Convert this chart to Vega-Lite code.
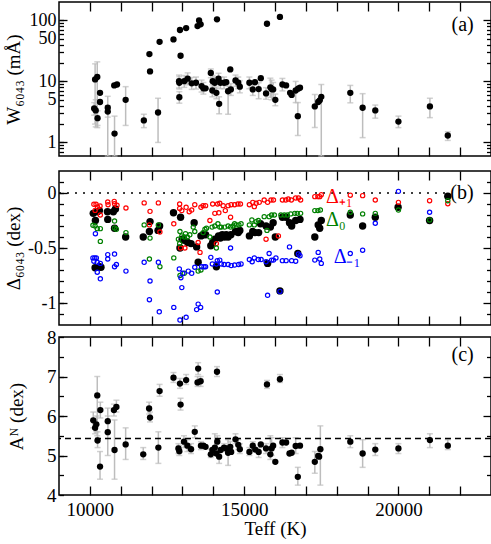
{
"$schema": "https://vega.github.io/schema/vega-lite/v6.json",
"padding": {"left": 3, "top": 0, "right": 0, "bottom": 0},
"config": {"font": "Liberation Serif", "view": {"stroke": "black", "strokeWidth": 1.5},
  "text": {"font": "Liberation Serif"},
  "axis": {"domain": false, "grid": false, "labelFont": "Liberation Serif", "titleFont": "Liberation Serif", "labelFontSize": 18, "titleFontSize": 19, "titleFontWeight": "normal", "labelColor": "black", "titleColor": "black", "tickColor": "black", "tickWidth": 1.3, "labelFlush": false, "labelOverlap": false}},
"datasets": {
"wa": [
{"T":10140,"W":3.6,"lo":2.8,"hi":4.5},{"T":10190,"W":3.35,"lo":1.8,"hi":5.0},{"T":10250,"W":2.5,"lo":1.9,"hi":3.3},
{"T":10170,"W":10.8,"lo":2.0,"hi":19.4},{"T":10240,"W":11.8,"lo":1.75,"hi":20.9},{"T":10330,"W":6.5},{"T":10330,"W":4.6},
{"T":10580,"W":3.7,"lo":0.6,"hi":5.7},{"T":10580,"W":3.2,"lo":2.6,"hi":4.0},{"T":10800,"W":1.4,"lo":0.6,"hi":2.7},
{"T":10790,"W":8.6},{"T":10880,"W":8.9},{"T":11160,"W":5.0,"lo":1.9,"hi":8.2},{"T":11750,"W":2.3,"lo":1.75,"hi":2.9},
{"T":11930,"W":28},{"T":11950,"W":14.6},{"T":12210,"W":3.1,"lo":1.0,"hi":5.3},{"T":12260,"W":44.5},{"T":12710,"W":48.8},
{"T":12920,"W":69.5},{"T":13120,"W":74.8},{"T":12940,"W":26.3},{"T":12890,"W":10.1,"lo":7.8,"hi":12.7},
{"T":12900,"W":9.5,"lo":7.5,"hi":12},{"T":12900,"W":5.5,"lo":4.4,"hi":6.8},{"T":13060,"W":10.1,"lo":8,"hi":12.5},
{"T":13170,"W":11.1,"lo":8.8,"hi":13.8},{"T":13300,"W":9.3,"lo":7.4,"hi":11.6},{"T":13440,"W":9.5,"lo":7.5,"hi":11.8},
{"T":13490,"W":80.6},{"T":13540,"W":100},{"T":13590,"W":86},{"T":13620,"W":8.4,"lo":6.7,"hi":10.5},
{"T":13680,"W":7.7,"lo":6.2,"hi":9.6},{"T":13750,"W":7.7},{"T":13920,"W":13.8,"lo":11.5,"hi":16},
{"T":13980,"W":10.1,"lo":8,"hi":12.5},{"T":13970,"W":7.1,"lo":5.6,"hi":8.8},{"T":14050,"W":9.5,"lo":7.6,"hi":11.8},
{"T":14100,"W":6.5,"lo":5.2,"hi":8.1},{"T":14120,"W":104},{"T":14170,"W":11.1,"lo":8.9,"hi":13.6},
{"T":14190,"W":4.3,"lo":2.95,"hi":5.6},{"T":14230,"W":9.5,"lo":7.6,"hi":11.8},{"T":14350,"W":9.5,"lo":7.6,"hi":11.8},
{"T":14420,"W":9.7},{"T":14480,"W":6.9,"lo":2.9,"hi":8.4},{"T":14550,"W":15.7},{"T":14570,"W":7.4,"lo":5.9,"hi":9.2},
{"T":14720,"W":10.4,"lo":8.3,"hi":12.7},{"T":14810,"W":9.5,"lo":7.6,"hi":11.8},{"T":14860,"W":8.2,"lo":6.5,"hi":10.3},
{"T":15170,"W":9.5,"lo":7.6,"hi":11.8},{"T":15280,"W":7.4,"lo":5.9,"hi":9.3},{"T":15350,"W":9.7},
{"T":15470,"W":7.5,"lo":5.2,"hi":9.5},{"T":15540,"W":11.3},{"T":15710,"W":6.35,"lo":5.1,"hi":7.9},{"T":15740,"W":88},
{"T":15850,"W":8.0,"lo":5.5,"hi":11.3},{"T":15890,"W":7.5,"lo":5.0,"hi":10.5},{"T":15940,"W":7.4,"lo":5.5,"hi":9.6},
{"T":16010,"W":5.0,"lo":4.0,"hi":6.2},{"T":16160,"W":114},{"T":16240,"W":8.9,"lo":7.0,"hi":11.2},{"T":16360,"W":8.6},
{"T":16490,"W":6.5},{"T":16540,"W":6.0},{"T":16670,"W":7.1,"lo":4.5,"hi":10},{"T":16740,"W":2.7,"lo":1.3,"hi":4.5},
{"T":16750,"W":7.6},{"T":16810,"W":7.9},{"T":17290,"W":3.9,"lo":1.75,"hi":6.1},{"T":17400,"W":4.6},
{"T":17450,"W":4.9},{"T":17500,"W":5.6,"lo":0.6,"hi":8.9},{"T":18440,"W":6.5,"lo":4.46,"hi":8.6},
{"T":18840,"W":3.7,"lo":1.2,"hi":6.3},{"T":19250,"W":3.35,"lo":2.5,"hi":4.1},{"T":20000,"W":2.2,"lo":1.75,"hi":2.7},
{"T":21020,"W":3.9,"lo":2.55,"hi":5.3},{"T":21600,"W":1.3,"lo":1.08,"hi":1.5}
],
"wc": [
{"T":10110,"A":5.89,"lo":5.7,"hi":6.1},{"T":10170,"A":5.70,"lo":5.55,"hi":5.85},{"T":10210,"A":5.79,"lo":5.6,"hi":6.0},
{"T":10240,"A":6.52,"lo":5.5,"hi":7.0},{"T":10250,"A":5.38,"lo":5.2,"hi":5.6},{"T":10340,"A":6.15,"lo":5.95,"hi":6.35},
{"T":10330,"A":4.72,"lo":4.4,"hi":5.1},{"T":10580,"A":5.87,"lo":5.6,"hi":6.2},{"T":10580,"A":5.59,"lo":5.0,"hi":6.0},
{"T":10800,"A":5.14,"lo":4.4,"hi":5.9},{"T":10780,"A":6.15,"lo":6.0,"hi":6.3},{"T":10860,"A":6.23,"lo":6.1,"hi":6.4},
{"T":11160,"A":5.28,"lo":4.9,"hi":5.7},{"T":11730,"A":5.03,"lo":4.9,"hi":5.2},{"T":11920,"A":6.19,"lo":6.05,"hi":6.35},
{"T":11950,"A":5.96,"lo":5.85,"hi":6.1},{"T":12220,"A":5.20,"lo":4.8,"hi":5.6},{"T":12260,"A":6.63,"lo":6.5,"hi":6.8},
{"T":12710,"A":6.97,"lo":6.85,"hi":7.1},{"T":12920,"A":6.82,"lo":6.7,"hi":6.95},{"T":13120,"A":6.91,"lo":6.8,"hi":7.05},
{"T":12940,"A":6.29,"lo":6.15,"hi":6.45},{"T":12870,"A":5.18,"lo":5.05,"hi":5.3},{"T":12900,"A":5.11,"lo":5.0,"hi":5.25},
{"T":13050,"A":5.35,"lo":5.2,"hi":5.5},{"T":13160,"A":5.25,"lo":5.1,"hi":5.4},{"T":13280,"A":5.16,"lo":5.05,"hi":5.3},
{"T":13400,"A":5.60,"lo":5.45,"hi":5.75},{"T":13490,"A":6.85,"lo":6.75,"hi":7.0},{"T":13510,"A":7.20,"lo":7.05,"hi":7.35},
{"T":13590,"A":6.88,"lo":6.75,"hi":7.0},{"T":13600,"A":5.25,"lo":5.15,"hi":5.35},{"T":13680,"A":5.25},{"T":13750,"A":5.22},
{"T":13920,"A":5.03,"lo":4.95,"hi":5.15},{"T":13970,"A":5.14},{"T":14050,"A":5.20,"lo":5.1,"hi":5.55},{"T":14100,"A":5.05},
{"T":14120,"A":7.12,"lo":7.0,"hi":7.25},{"T":14130,"A":5.35,"lo":5.2,"hi":5.5},{"T":14190,"A":4.97,"lo":4.8,"hi":5.15},
{"T":14240,"A":5.14},{"T":14350,"A":5.20,"lo":5.1,"hi":5.3},{"T":14420,"A":5.18},{"T":14480,"A":5.07,"lo":4.75,"hi":5.4},
{"T":14550,"A":5.22,"lo":5.1,"hi":5.35},{"T":14580,"A":5.09},{"T":14720,"A":5.41,"lo":5.3,"hi":5.55},
{"T":14810,"A":5.27,"lo":5.15,"hi":5.4},{"T":14860,"A":5.16,"lo":5.05,"hi":5.3},{"T":15170,"A":5.09,"lo":5.0,"hi":5.2},
{"T":15280,"A":5.25,"lo":5.15,"hi":5.35},{"T":15360,"A":5.15},{"T":15470,"A":5.09,"lo":4.95,"hi":5.2},{"T":15540,"A":5.28},
{"T":15710,"A":5.18,"lo":5.05,"hi":5.3},{"T":15740,"A":6.80,"lo":6.7,"hi":6.9},{"T":15850,"A":5.03,"lo":4.9,"hi":5.5},
{"T":15890,"A":5.18,"lo":5.0,"hi":5.45},{"T":15940,"A":5.25},{"T":16010,"A":4.84},{"T":16160,"A":6.93,"lo":6.85,"hi":7.05},
{"T":16240,"A":5.33,"lo":5.2,"hi":5.45},{"T":16360,"A":5.33},{"T":16470,"A":5.05},{"T":16540,"A":5.07},
{"T":16670,"A":5.24,"lo":5.05,"hi":5.45},{"T":16740,"A":4.46,"lo":4.25,"hi":4.7},{"T":16810,"A":5.25},
{"T":17290,"A":4.84,"lo":4.55,"hi":5.1},{"T":17400,"A":4.99},{"T":17430,"A":4.97},{"T":17470,"A":5.16,"lo":4.25,"hi":5.75},
{"T":18440,"A":5.35,"lo":5.2,"hi":5.5},{"T":18840,"A":5.05,"lo":4.7,"hi":5.4},{"T":19250,"A":5.15,"lo":5.0,"hi":5.3},
{"T":20000,"A":5.18,"lo":5.05,"hi":5.3},{"T":21020,"A":5.39,"lo":5.2,"hi":5.55},{"T":21600,"A":5.25,"lo":5.15,"hi":5.4}
],
"db": [
{"T":10110,"d":-0.185,"s":"obs"},{"T":10180,"d":-0.25,"s":"obs"},{"T":10240,"d":-0.17,"s":"obs"},{"T":10310,"d":-0.16,"s":"obs"},
{"T":10170,"d":-0.68,"s":"obs"},{"T":10300,"d":-0.67,"s":"obs"},{"T":10360,"d":-0.675,"s":"obs"},{"T":10570,"d":-0.17,"s":"obs"},
{"T":10580,"d":-0.24,"s":"obs"},{"T":10760,"d":-0.17,"s":"obs"},{"T":10830,"d":-0.145,"s":"obs"},{"T":10800,"d":-0.32,"s":"obs"},
{"T":11160,"d":-0.40,"s":"obs"},{"T":11730,"d":-0.40,"s":"obs"},{"T":11930,"d":-0.35,"s":"obs"},{"T":11950,"d":-0.26,"s":"obs"},
{"T":12210,"d":-0.34,"s":"obs"},{"T":12260,"d":-0.30,"s":"obs"},{"T":12710,"d":-0.18,"s":"obs"},{"T":12920,"d":-0.50,"s":"obs"},
{"T":12940,"d":-0.22,"s":"obs"},{"T":12990,"d":-0.42,"s":"obs"},{"T":13060,"d":-0.43,"s":"obs"},{"T":13170,"d":-0.45,"s":"obs"},
{"T":13280,"d":-0.46,"s":"obs"},{"T":13380,"d":-0.27,"s":"obs"},{"T":13460,"d":-0.49,"s":"obs"},{"T":13510,"d":-0.63,"s":"obs"},
{"T":13600,"d":-0.39,"s":"obs"},{"T":13670,"d":-0.38,"s":"obs"},{"T":13750,"d":-0.38,"s":"obs"},{"T":13920,"d":-0.48,"s":"obs"},
{"T":13980,"d":-0.45,"s":"obs"},{"T":14050,"d":-0.42,"s":"obs"},{"T":14100,"d":-0.67,"s":"obs"},{"T":14170,"d":-0.39,"s":"obs"},
{"T":14230,"d":-0.41,"s":"obs"},{"T":14290,"d":-0.38,"s":"obs"},{"T":14370,"d":-0.40,"s":"obs"},{"T":14420,"d":-0.38,"s":"obs"},
{"T":14480,"d":-0.40,"s":"obs"},{"T":14570,"d":-0.38,"s":"obs"},{"T":14720,"d":-0.35,"s":"obs"},{"T":14810,"d":-0.36,"s":"obs"},
{"T":14860,"d":-0.34,"s":"obs"},{"T":15170,"d":-0.39,"s":"obs"},{"T":15280,"d":-0.35,"s":"obs"},{"T":15350,"d":-0.36,"s":"obs"},
{"T":15470,"d":-0.36,"s":"obs"},{"T":15530,"d":-0.28,"s":"obs"},{"T":15710,"d":-0.30,"s":"obs"},{"T":15760,"d":-0.64,"s":"obs"},
{"T":15850,"d":-0.31,"s":"obs"},{"T":15940,"d":-0.27,"s":"obs"},{"T":16010,"d":-0.40,"s":"obs"},{"T":16160,"d":-0.89,"s":"obs"},
{"T":16240,"d":-0.22,"s":"obs"},{"T":16360,"d":-0.22,"s":"obs"},{"T":16470,"d":-0.27,"s":"obs"},{"T":16540,"d":-0.30,"s":"obs"},
{"T":16670,"d":-0.25,"s":"obs"},{"T":16740,"d":-0.55,"s":"obs"},{"T":16810,"d":-0.24,"s":"obs"},{"T":17290,"d":-0.40,"s":"obs"},
{"T":17400,"d":-0.29,"s":"obs"},{"T":17450,"d":-0.32,"s":"obs"},{"T":17500,"d":-0.25,"s":"obs"},{"T":18440,"d":-0.20,"s":"obs"},
{"T":18840,"d":-0.30,"s":"obs"},{"T":19250,"d":-0.22,"s":"obs"},{"T":19990,"d":-0.13,"s":"obs"},{"T":21010,"d":-0.25,"s":"obs"},
{"T":21600,"d":-0.03,"s":"obs"},
{"T":10130,"d":-0.103,"s":"p1"},{"T":10200,"d":-0.103,"s":"p1"},{"T":10250,"d":-0.127,"s":"p1"},{"T":10330,"d":-0.118,"s":"p1"},
{"T":10170,"d":-0.158,"s":"p1"},{"T":10340,"d":-0.20,"s":"p1"},{"T":10580,"d":-0.082,"s":"p1"},{"T":10590,"d":-0.106,"s":"p1"},
{"T":10790,"d":-0.076,"s":"p1"},{"T":10800,"d":-0.097,"s":"p1"},{"T":10880,"d":-0.112,"s":"p1"},{"T":11170,"d":-0.136,"s":"p1"},
{"T":11760,"d":-0.09,"s":"p1"},{"T":11950,"d":-0.167,"s":"p1"},{"T":12220,"d":-0.09,"s":"p1"},{"T":12270,"d":-0.355,"s":"p1"},
{"T":11930,"d":-0.29,"s":"p1"},{"T":12720,"d":-0.28,"s":"p1"},{"T":12910,"d":-0.10,"s":"p1"},{"T":12910,"d":-0.14,"s":"p1"},
{"T":12980,"d":-0.16,"s":"p1"},{"T":12940,"d":-0.50,"s":"p1"},{"T":13080,"d":-0.50,"s":"p1"},{"T":13120,"d":-0.13,"s":"p1"},
{"T":13220,"d":-0.17,"s":"p1"},{"T":13300,"d":-0.155,"s":"p1"},{"T":13400,"d":-0.106,"s":"p1"},{"T":13510,"d":-0.45,"s":"p1"},
{"T":13570,"d":-0.54,"s":"p1"},{"T":13600,"d":-0.13,"s":"p1"},{"T":13670,"d":-0.115,"s":"p1"},{"T":13750,"d":-0.115,"s":"p1"},
{"T":13890,"d":-0.25,"s":"p1"},{"T":13980,"d":-0.10,"s":"p1"},{"T":14050,"d":-0.185,"s":"p1"},{"T":14100,"d":-0.46,"s":"p1"},
{"T":14140,"d":-0.10,"s":"p1"},{"T":14180,"d":-0.18,"s":"p1"},{"T":14210,"d":-0.094,"s":"p1"},{"T":14320,"d":-0.115,"s":"p1"},
{"T":14390,"d":-0.16,"s":"p1"},{"T":14480,"d":-0.115,"s":"p1"},{"T":14560,"d":-0.22,"s":"p1"},{"T":14580,"d":-0.106,"s":"p1"},
{"T":14690,"d":-0.106,"s":"p1"},{"T":14800,"d":-0.10,"s":"p1"},{"T":14880,"d":-0.10,"s":"p1"},{"T":15170,"d":-0.106,"s":"p1"},
{"T":15280,"d":-0.085,"s":"p1"},{"T":15330,"d":-0.124,"s":"p1"},{"T":15390,"d":-0.094,"s":"p1"},{"T":15490,"d":-0.085,"s":"p1"},
{"T":15650,"d":-0.064,"s":"p1"},{"T":15710,"d":-0.42,"s":"p1"},{"T":15760,"d":-0.085,"s":"p1"},{"T":15870,"d":-0.064,"s":"p1"},
{"T":15950,"d":-0.064,"s":"p1"},{"T":16110,"d":-0.39,"s":"p1"},{"T":16240,"d":-0.064,"s":"p1"},{"T":16350,"d":-0.064,"s":"p1"},
{"T":16430,"d":-0.055,"s":"p1"},{"T":16530,"d":-0.064,"s":"p1"},{"T":16670,"d":-0.045,"s":"p1"},{"T":16760,"d":-0.045,"s":"p1"},
{"T":16830,"d":-0.064,"s":"p1"},{"T":17290,"d":-0.033,"s":"p1"},{"T":17390,"d":-0.033,"s":"p1"},{"T":17450,"d":-0.033,"s":"p1"},
{"T":17500,"d":-0.015,"s":"p1"},{"T":18440,"d":-0.02,"s":"p1"},{"T":18840,"d":-0.024,"s":"p1"},{"T":19250,"d":-0.064,"s":"p1"},
{"T":20000,"d":-0.085,"s":"p1"},{"T":21010,"d":-0.07,"s":"p1"},{"T":21600,"d":-0.097,"s":"p1"},
{"T":10100,"d":-0.294,"s":"z0"},{"T":10170,"d":-0.30,"s":"z0"},{"T":10240,"d":-0.324,"s":"z0"},{"T":10340,"d":-0.324,"s":"z0"},
{"T":10340,"d":-0.44,"s":"z0"},{"T":10800,"d":-0.255,"s":"z0"},{"T":10800,"d":-0.318,"s":"z0"},{"T":10860,"d":-0.33,"s":"z0"},
{"T":11170,"d":-0.36,"s":"z0"},{"T":11760,"d":-0.29,"s":"z0"},{"T":11950,"d":-0.41,"s":"z0"},{"T":12220,"d":-0.29,"s":"z0"},
{"T":12270,"d":-0.67,"s":"z0"},{"T":11930,"d":-0.60,"s":"z0"},{"T":12720,"d":-0.59,"s":"z0"},{"T":12920,"d":-0.35,"s":"z0"},
{"T":12870,"d":-0.42,"s":"z0"},{"T":12910,"d":-0.46,"s":"z0"},{"T":12980,"d":-0.39,"s":"z0"},{"T":13060,"d":-0.40,"s":"z0"},
{"T":13100,"d":-0.37,"s":"z0"},{"T":13160,"d":-0.40,"s":"z0"},{"T":13240,"d":-0.38,"s":"z0"},{"T":13350,"d":-0.31,"s":"z0"},
{"T":13400,"d":-0.35,"s":"z0"},{"T":12920,"d":-0.75,"s":"z0"},{"T":13060,"d":-0.73,"s":"z0"},{"T":13510,"d":-0.71,"s":"z0"},
{"T":13600,"d":-0.70,"s":"z0"},{"T":13670,"d":-0.36,"s":"z0"},{"T":13730,"d":-0.33,"s":"z0"},{"T":13780,"d":-0.32,"s":"z0"},
{"T":13890,"d":-0.40,"s":"z0"},{"T":13960,"d":-0.31,"s":"z0"},{"T":14050,"d":-0.30,"s":"z0"},{"T":14100,"d":-0.50,"s":"z0"},
{"T":14150,"d":-0.28,"s":"z0"},{"T":14210,"d":-0.31,"s":"z0"},{"T":14260,"d":-0.31,"s":"z0"},{"T":14370,"d":-0.31,"s":"z0"},
{"T":14480,"d":-0.30,"s":"z0"},{"T":14560,"d":-0.31,"s":"z0"},{"T":14640,"d":-0.30,"s":"z0"},{"T":14690,"d":-0.28,"s":"z0"},
{"T":14740,"d":-0.29,"s":"z0"},{"T":14830,"d":-0.29,"s":"z0"},{"T":14900,"d":-0.28,"s":"z0"},{"T":15170,"d":-0.29,"s":"z0"},
{"T":15250,"d":-0.245,"s":"z0"},{"T":15330,"d":-0.29,"s":"z0"},{"T":15390,"d":-0.26,"s":"z0"},{"T":15460,"d":-0.25,"s":"z0"},
{"T":15650,"d":-0.215,"s":"z0"},{"T":15740,"d":-0.34,"s":"z0"},{"T":15810,"d":-0.215,"s":"z0"},{"T":15890,"d":-0.20,"s":"z0"},
{"T":15980,"d":-0.20,"s":"z0"},{"T":16190,"d":-0.20,"s":"z0"},{"T":16300,"d":-0.20,"s":"z0"},{"T":16400,"d":-0.20,"s":"z0"},
{"T":16510,"d":-0.19,"s":"z0"},{"T":16640,"d":-0.185,"s":"z0"},{"T":16720,"d":-0.185,"s":"z0"},{"T":16830,"d":-0.185,"s":"z0"},
{"T":17290,"d":-0.16,"s":"z0"},{"T":17390,"d":-0.16,"s":"z0"},{"T":17470,"d":-0.155,"s":"z0"},{"T":18440,"d":-0.175,"s":"z0"},
{"T":18840,"d":-0.19,"s":"z0"},{"T":19250,"d":-0.185,"s":"z0"},{"T":20000,"d":-0.155,"s":"z0"},{"T":21010,"d":-0.245,"s":"z0"},
{"T":21600,"d":-0.07,"s":"z0"},
{"T":10100,"d":-0.59,"s":"m1"},{"T":10160,"d":-0.59,"s":"m1"},{"T":10210,"d":-0.59,"s":"m1"},{"T":10130,"d":-0.62,"s":"m1"},
{"T":10240,"d":-0.63,"s":"m1"},{"T":10340,"d":-0.64,"s":"m1"},{"T":10240,"d":-0.72,"s":"m1"},{"T":10340,"d":-0.78,"s":"m1"},
{"T":10180,"d":-0.37,"s":"m1"},{"T":10580,"d":-0.56,"s":"m1"},{"T":10580,"d":-0.60,"s":"m1"},{"T":10800,"d":-0.555,"s":"m1"},
{"T":10800,"d":-0.67,"s":"m1"},{"T":10860,"d":-0.65,"s":"m1"},{"T":11170,"d":-0.71,"s":"m1"},{"T":11760,"d":-0.63,"s":"m1"},
{"T":11950,"d":-0.80,"s":"m1"},{"T":11930,"d":-0.97,"s":"m1"},{"T":12220,"d":-0.63,"s":"m1"},{"T":12250,"d":-1.08,"s":"m1"},
{"T":12720,"d":-1.04,"s":"m1"},{"T":12900,"d":-0.69,"s":"m1"},{"T":12950,"d":-0.77,"s":"m1"},{"T":12980,"d":-0.86,"s":"m1"},
{"T":12920,"d":-1.155,"s":"m1"},{"T":13120,"d":-1.13,"s":"m1"},{"T":13010,"d":-0.73,"s":"m1"},{"T":13190,"d":-0.71,"s":"m1"},
{"T":13300,"d":-0.73,"s":"m1"},{"T":13400,"d":-0.675,"s":"m1"},{"T":13460,"d":-1.06,"s":"m1"},{"T":13510,"d":-1.01,"s":"m1"},
{"T":13590,"d":-1.04,"s":"m1"},{"T":13620,"d":-0.67,"s":"m1"},{"T":13700,"d":-0.67,"s":"m1"},{"T":13750,"d":-0.67,"s":"m1"},
{"T":13920,"d":-0.585,"s":"m1"},{"T":13970,"d":-0.645,"s":"m1"},{"T":14100,"d":-0.645,"s":"m1"},{"T":14130,"d":-0.615,"s":"m1"},
{"T":14210,"d":-0.61,"s":"m1"},{"T":14130,"d":-0.90,"s":"m1"},{"T":14260,"d":-0.645,"s":"m1"},{"T":14350,"d":-0.65,"s":"m1"},
{"T":14480,"d":-0.65,"s":"m1"},{"T":14560,"d":-0.50,"s":"m1"},{"T":14580,"d":-0.66,"s":"m1"},{"T":14690,"d":-0.655,"s":"m1"},
{"T":14820,"d":-0.65,"s":"m1"},{"T":14900,"d":-0.645,"s":"m1"},{"T":15170,"d":-0.605,"s":"m1"},{"T":15260,"d":-0.625,"s":"m1"},
{"T":15330,"d":-0.59,"s":"m1"},{"T":15460,"d":-0.605,"s":"m1"},{"T":15550,"d":-0.605,"s":"m1"},{"T":15710,"d":-0.625,"s":"m1"},
{"T":15760,"d":-0.93,"s":"m1"},{"T":15810,"d":-0.55,"s":"m1"},{"T":15890,"d":-0.61,"s":"m1"},{"T":15950,"d":-0.61,"s":"m1"},
{"T":16030,"d":-0.59,"s":"m1"},{"T":16160,"d":-0.895,"s":"m1"},{"T":16240,"d":-0.615,"s":"m1"},{"T":16360,"d":-0.615,"s":"m1"},
{"T":16470,"d":-0.49,"s":"m1"},{"T":16540,"d":-0.615,"s":"m1"},{"T":16670,"d":-0.62,"s":"m1"},{"T":16760,"d":-0.555,"s":"m1"},
{"T":16810,"d":-0.57,"s":"m1"},{"T":17290,"d":-0.61,"s":"m1"},{"T":17400,"d":-0.54,"s":"m1"},{"T":17450,"d":-0.60,"s":"m1"},
{"T":17500,"d":-0.64,"s":"m1"},{"T":18440,"d":-0.55,"s":"m1"},{"T":18840,"d":-0.52,"s":"m1"},{"T":19250,"d":-0.275,"s":"m1"},
{"T":20000,"d":0.015,"s":"m1"},{"T":21010,"d":-0.175,"s":"m1"}
]
},
"spacing": 15,
"bounds": "flush",
"vconcat": [
{
 "width": 432, "height": 154,
 "resolve": {"axis": {"x": "independent", "y": "independent"}},
 "layer": [
  {"data": {"name": "wa"}, "transform": [{"filter": "isValid(datum.lo)"}],
   "mark": {"type": "errorbar", "ticks": {"size": 6}, "color": "#bdbdbd", "thickness": 1.5},
   "encoding": {
     "x": {"field": "T", "type": "quantitative", "scale": {"domain": [9000, 23000], "nice": false, "zero": false}, "axis": null},
     "y": {"field": "lo", "type": "quantitative", "scale": {"type": "log", "domain": [0.6, 200], "nice": false}, "axis": null},
     "y2": {"field": "hi"}}},
  {"data": {"name": "wa"},
   "mark": {"type": "circle", "size": 40, "color": "black", "opacity": 1},
   "encoding": {
     "x": {"field": "T", "type": "quantitative", "scale": {"domain": [9000, 23000], "nice": false, "zero": false},
       "axis": {"orient": "bottom", "values": [10000,11000,12000,13000,14000,15000,16000,17000,18000,19000,20000,21000,22000], "tickSize": -9, "labels": false, "title": null}},
     "y": {"field": "W", "type": "quantitative", "scale": {"type": "log", "domain": [0.6, 200], "nice": false},
       "axis": {"orient": "left", "values": [0.7,0.8,0.9,1,2,3,4,5,6,7,8,9,10,20,30,40,50,60,70,80,90,100], "tickSize": -4.5, "labelPadding": 7.5,
         "labelFont": "Liberation Serif", "titleFont": "Liberation Serif", "labelFontSize": 18, "titleFontSize": 19, "titleFontWeight": "normal",
         "labelExpr": "indexof([1,5,10,50,100], datum.value) >= 0 ? format(datum.value, 'd') : ''",
         "title": "W₆₀₄₃ (mÅ)", "titlePadding": 6, "minExtent": 30, "maxExtent": 30}}}},
  {"data": {"values": [{"T": 22080, "y": 84, "t": "(a)"}]},
   "mark": {"type": "text", "fontSize": 20, "color": "black", "font": "Liberation Serif"},
   "encoding": {
     "x": {"field": "T", "type": "quantitative", "scale": {"domain": [9000, 23000], "nice": false, "zero": false},
       "axis": {"orient": "top", "values": [10000,11000,12000,13000,14000,15000,16000,17000,18000,19000,20000,21000,22000], "tickSize": -9, "labels": false, "title": null}},
     "y": {"field": "y", "type": "quantitative", "scale": {"type": "log", "domain": [0.6, 200], "nice": false},
       "axis": {"orient": "left", "values": [1, 10, 100], "tickSize": -8, "labels": false, "title": null}},
     "text": {"field": "t"}}},
  {"data": {"values": [{"T": 22080, "y": 84}]},
   "mark": {"type": "text", "text": "", "opacity": 0},
   "encoding": {
     "x": {"field": "T", "type": "quantitative", "axis": null},
     "y": {"field": "y", "type": "quantitative", "scale": {"type": "log", "domain": [0.6, 200], "nice": false},
       "axis": {"orient": "right", "values": [0.7,0.8,0.9,2,3,4,5,6,7,8,9,20,30,40,50,60,70,80,90], "tickSize": -4.5, "labels": false, "title": null}}}},
  {"data": {"values": [{"T": 22080, "y": 84}]},
   "mark": {"type": "text", "text": "", "opacity": 0},
   "encoding": {
     "x": {"field": "T", "type": "quantitative", "axis": null},
     "y": {"field": "y", "type": "quantitative", "scale": {"type": "log", "domain": [0.6, 200], "nice": false},
       "axis": {"orient": "right", "values": [1, 10, 100], "tickSize": -8, "labels": false, "title": null}}}}
 ]
},
{
 "spacing": 12,
 "bounds": "flush",
 "vconcat": [
 {
  "width": 432, "height": 154,
  "resolve": {"axis": {"x": "independent", "y": "independent"}},
  "layer": [
   {"data": {"values": [{"a": 9000, "b": 21700, "y": 0}]},
    "mark": {"type": "rule", "color": "black", "strokeDash": [2, 6], "strokeWidth": 1.3},
    "encoding": {
      "x": {"field": "a", "type": "quantitative", "scale": {"domain": [9000, 23000], "nice": false, "zero": false}, "axis": null},
      "x2": {"field": "b"},
      "y": {"field": "y", "type": "quantitative", "scale": {"domain": [-1.2, 0.2], "nice": false, "zero": false}, "axis": null}}},
   {"data": {"name": "db"}, "transform": [{"filter": "datum.s === 'obs'"}],
    "mark": {"type": "circle", "size": 55, "color": "black", "opacity": 1},
    "encoding": {
      "x": {"field": "T", "type": "quantitative", "scale": {"domain": [9000, 23000], "nice": false, "zero": false},
        "axis": {"orient": "bottom", "values": [10000,11000,12000,13000,14000,15000,16000,17000,18000,19000,20000,21000,22000], "tickSize": -9, "labels": false, "title": null}},
      "y": {"field": "d", "type": "quantitative", "scale": {"domain": [-1.2, 0.2], "nice": false, "zero": false},
        "axis": {"orient": "left", "values": [-1.1,-1,-0.9,-0.8,-0.7,-0.6,-0.5,-0.4,-0.3,-0.2,-0.1,0,0.1], "tickSize": -4.5, "labelPadding": 7.5,
          "labelFont": "Liberation Serif", "titleFont": "Liberation Serif", "labelFontSize": 18, "titleFontSize": 19, "titleFontWeight": "normal",
          "labelExpr": "datum.value === 0 ? '0' : datum.value === -0.5 ? '-0.5' : datum.value === -1 ? '-1' : ''",
          "title": "Δ₆₀₄₃ (dex)", "titlePadding": 6, "minExtent": 30, "maxExtent": 30}}}},
   {"data": {"name": "db"}, "transform": [{"filter": "datum.s !== 'obs'"}],
    "mark": {"type": "point", "shape": "circle", "filled": false, "size": 18, "strokeWidth": 1.2, "opacity": 1},
    "encoding": {
      "x": {"field": "T", "type": "quantitative", "scale": {"domain": [9000, 23000], "nice": false, "zero": false},
        "axis": {"orient": "top", "values": [10000,11000,12000,13000,14000,15000,16000,17000,18000,19000,20000,21000,22000], "tickSize": -9, "labels": false, "title": null}},
      "y": {"field": "d", "type": "quantitative", "scale": {"domain": [-1.2, 0.2], "nice": false, "zero": false},
        "axis": {"orient": "left", "values": [-1, -0.5, 0], "tickSize": -8, "labels": false, "title": null}},
      "color": {"field": "s", "type": "nominal", "scale": {"domain": ["p1", "z0", "m1"], "range": ["#ff0000", "#008000", "#0000ff"]}, "legend": null}}},
   {"data": {"values": [{"T": 17650, "d": -0.04, "s": "p1", "t": "Δ₊₁"}, {"T": 17650, "d": -0.245, "s": "z0", "t": "Δ₀"}, {"T": 17900, "d": -0.585, "s": "m1", "t": "Δ₋₁"}]},
    "mark": {"type": "text", "fontSize": 20, "align": "left", "baseline": "middle", "font": "Liberation Serif"},
    "encoding": {
      "x": {"field": "T", "type": "quantitative", "axis": null},
      "y": {"field": "d", "type": "quantitative", "scale": {"domain": [-1.2, 0.2], "nice": false, "zero": false},
        "axis": {"orient": "right", "values": [-1.1,-0.9,-0.8,-0.7,-0.6,-0.4,-0.3,-0.2,-0.1,0.1], "tickSize": -4.5, "labels": false, "title": null}},
      "text": {"field": "t"},
      "color": {"field": "s", "type": "nominal", "scale": {"domain": ["p1", "z0", "m1"], "range": ["#ff0000", "#008000", "#0000ff"]}, "legend": null}}},
   {"data": {"values": [{"T": 22060, "d": 0, "t": "(b)"}]},
    "mark": {"type": "text", "fontSize": 20, "color": "black", "baseline": "middle", "font": "Liberation Serif"},
    "encoding": {
      "x": {"field": "T", "type": "quantitative", "axis": null},
      "y": {"field": "d", "type": "quantitative", "scale": {"domain": [-1.2, 0.2], "nice": false, "zero": false},
        "axis": {"orient": "right", "values": [-1, -0.5, 0], "tickSize": -8, "labels": false, "title": null}},
      "text": {"field": "t"}}}
  ]
 },
 {
  "width": 432, "height": 158,
  "resolve": {"axis": {"x": "independent", "y": "independent"}},
  "layer": [
   {"data": {"name": "wc"}, "transform": [{"filter": "isValid(datum.lo)"}],
    "mark": {"type": "errorbar", "ticks": {"size": 6}, "color": "#bdbdbd", "thickness": 1.5},
    "encoding": {
      "x": {"field": "T", "type": "quantitative", "scale": {"domain": [9000, 23000], "nice": false, "zero": false}, "axis": null},
      "y": {"field": "lo", "type": "quantitative", "scale": {"domain": [4, 8], "nice": false, "zero": false}, "axis": null},
      "y2": {"field": "hi"}}},
   {"data": {"values": [{"y": 5.43}]},
    "mark": {"type": "rule", "color": "black", "strokeDash": [6, 4], "strokeWidth": 1.3},
    "encoding": {
      "y": {"field": "y", "type": "quantitative", "scale": {"domain": [4, 8], "nice": false, "zero": false}, "axis": null}}},
   {"data": {"name": "wc"},
    "mark": {"type": "circle", "size": 40, "color": "black", "opacity": 1},
    "encoding": {
      "x": {"field": "T", "type": "quantitative", "scale": {"domain": [9000, 23000], "nice": false, "zero": false},
        "axis": {"orient": "bottom", "values": [10000,11000,12000,13000,14000,15000,16000,17000,18000,19000,20000,21000,22000], "tickSize": -9, "labelPadding": 14,
          "labelFont": "Liberation Serif", "titleFont": "Liberation Serif", "labelFontSize": 19, "titleFontSize": 19, "titleFontWeight": "normal",
          "labelExpr": "datum.value % 5000 === 0 ? format(datum.value, 'd') : ''",
          "title": "Teff (K)", "titlePadding": 4, "minExtent": 20, "maxExtent": 20}},
      "y": {"field": "A", "type": "quantitative", "scale": {"domain": [4, 8], "nice": false, "zero": false},
        "axis": {"orient": "left", "values": [4,4.5,5,5.5,6,6.5,7,7.5,8], "tickSize": -4.5, "labelPadding": 7.5,
          "labelFont": "Liberation Serif", "titleFont": "Liberation Serif", "labelFontSize": 19, "titleFontSize": 19, "titleFontWeight": "normal",
          "labelExpr": "datum.value % 1 === 0 ? format(datum.value, 'd') : ''",
          "title": "Aᴺ (dex)", "titlePadding": 3, "minExtent": 30, "maxExtent": 30}}}},
   {"data": {"values": [{"T": 22080, "y": 7.54, "t": "(c)"}]},
    "mark": {"type": "text", "fontSize": 20, "color": "black", "font": "Liberation Serif"},
    "encoding": {
      "x": {"field": "T", "type": "quantitative", "scale": {"domain": [9000, 23000], "nice": false, "zero": false},
        "axis": {"orient": "top", "values": [10000,11000,12000,13000,14000,15000,16000,17000,18000,19000,20000,21000,22000], "tickSize": -9, "labels": false, "title": null}},
      "y": {"field": "y", "type": "quantitative", "scale": {"domain": [4, 8], "nice": false, "zero": false},
        "axis": {"orient": "left", "values": [5, 6, 7], "tickSize": -8, "labels": false, "title": null}},
      "text": {"field": "t"}}},
   {"data": {"values": [{"T": 22080, "y": 7.54}]},
    "mark": {"type": "text", "text": "", "opacity": 0},
    "encoding": {
      "x": {"field": "T", "type": "quantitative", "axis": null},
      "y": {"field": "y", "type": "quantitative", "scale": {"domain": [4, 8], "nice": false, "zero": false},
        "axis": {"orient": "right", "values": [4.5, 5.5, 6.5, 7.5], "tickSize": -4.5, "labels": false, "title": null}}}},
   {"data": {"values": [{"T": 22080, "y": 7.54}]},
    "mark": {"type": "text", "text": "", "opacity": 0},
    "encoding": {
      "x": {"field": "T", "type": "quantitative", "axis": null},
      "y": {"field": "y", "type": "quantitative", "scale": {"domain": [4, 8], "nice": false, "zero": false},
        "axis": {"orient": "right", "values": [5, 6, 7], "tickSize": -8, "labels": false, "title": null}}}}
  ]
 }
 ]
}
]
}
